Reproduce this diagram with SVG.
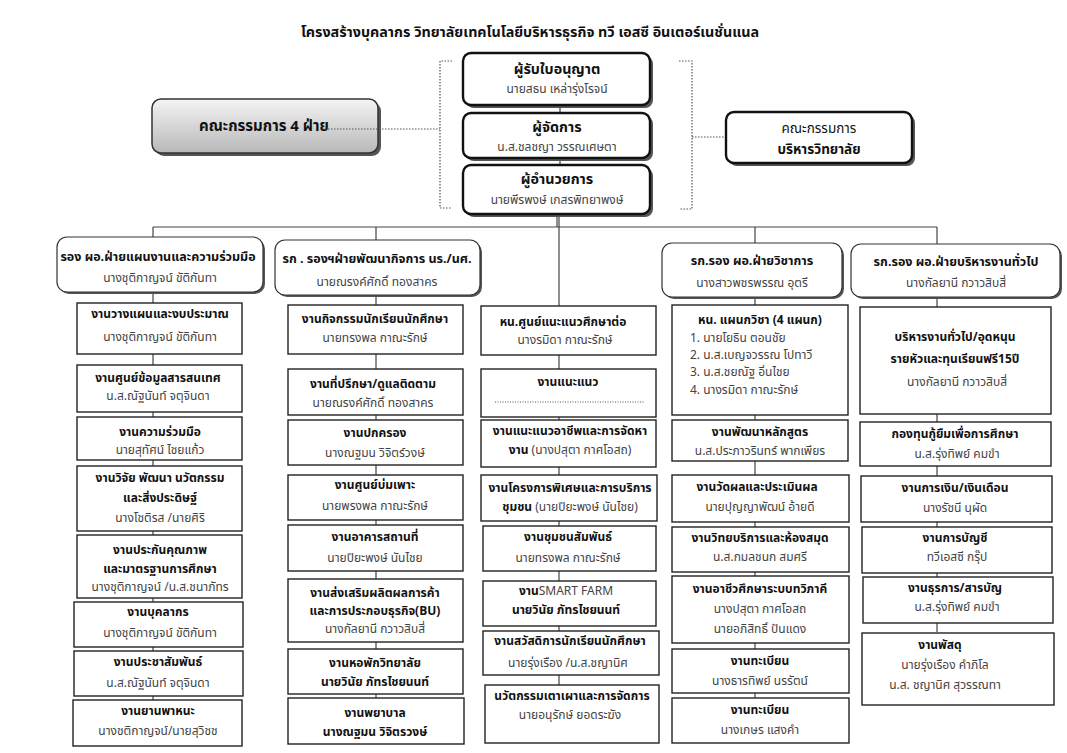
<svg xmlns="http://www.w3.org/2000/svg" width="1067" height="753" viewBox="0 0 1067 753">
<defs>
<linearGradient id="g4" x1="0" y1="0" x2="0" y2="1">
<stop offset="0" stop-color="#f4f4f4"/><stop offset="1" stop-color="#b8b8b8"/>
</linearGradient>
<style>
text{font-family:"Tahoma","Noto Sans Thai","Noto Sans","DejaVu Sans",sans-serif;text-anchor:middle;fill:#333}
.t{font-weight:bold;font-size:12px;fill:#111}
.n{font-size:12px;fill:#444}
.h{font-weight:bold;font-size:12.5px;fill:#111}
.ttl{font-weight:bold;font-size:14.3px;fill:#111}
.l{text-anchor:start}
.box{fill:#fff;stroke:#222;stroke-width:1.4}
.hdr{fill:#fff;stroke:#333;stroke-width:1.2}
.sh{fill:#555}
.top{fill:#fff;stroke:#111;stroke-width:2.4}
.ln{stroke:#444;stroke-width:1.2;fill:none}
.dot{stroke:#555;stroke-width:1.2;fill:none;stroke-dasharray:1.5 1.5}
</style>
</defs>
<rect width="1067" height="753" fill="#fff"/>
<text class="ttl" x="530" y="37">โครงสร้างบุคลากร วิทยาลัยเทคโนโลยีบริหารธุรกิจ ทวี เอสซี อินเตอร์เนชั่นแนล</text>

<g id="connectors">
<path class="ln" d="M560,105V113M560,158V165"/>
<path class="ln" d="M557,214V227M153,227H937M153,227V700M376,227V698M559,214V685M755,227V698M937,227V632"/>
<path class="dot" d="M452,61H440V208H452M679,61H692V209H679M692,137H726"/>
</g>

<g id="comm4">
<rect class="sh" x="155" y="102" width="226" height="54" rx="9"/>
<rect x="152" y="99" width="226" height="54" rx="9" fill="url(#g4)" stroke="#333" stroke-width="1.5"/>
<text class="ttl" x="264" y="131" style="font-size:15px">คณะกรรมการ 4 ฝ่าย</text>
</g>
<g id="licensee">
<rect class="sh" x="466" y="56" width="187" height="52" rx="8"/>
<rect class="top" x="463" y="53" width="187" height="52" rx="8"/>
<text class="ttl" x="557" y="74">ผู้รับใบอนุญาต</text>
<text class="n" x="557" y="93">นายสธน เหล่ารุ่งโรจน์</text>
</g>
<g id="manager">
<rect class="sh" x="466" y="116" width="187" height="45" rx="8"/>
<rect class="top" x="463" y="113" width="187" height="45" rx="8"/>
<text class="ttl" x="557" y="132">ผู้จัดการ</text>
<text class="n" x="557" y="151">น.ส.ชลชญา  วรรณเศษตา</text>
</g>
<g id="director">
<rect class="sh" x="466" y="168" width="187" height="49" rx="8"/>
<rect class="top" x="463" y="165" width="187" height="49" rx="8"/>
<text class="ttl" x="557" y="184">ผู้อำนวยการ</text>
<text class="n" x="557" y="204">นายพีรพงษ์  เกสรพิทยาพงษ์</text>
</g>
<g id="board">
<rect class="sh" x="729" y="115" width="186" height="51" rx="8"/>
<rect class="top" x="726" y="112" width="186" height="51" rx="8"/>
<text class="h" x="819" y="133" style="font-weight:normal;font-size:13.5px">คณะกรรมการ</text>
<text class="h" x="819" y="154" style="font-size:13.5px">บริหารวิทยาลัย</text>
</g>

<!-- column 1 -->
<g id="c1h">
<rect class="sh" x="59" y="239" width="206" height="55" rx="10"/>
<rect class="hdr" x="57" y="237" width="206" height="55" rx="10"/>
<text class="h" x="158" y="261">รอง ผอ.ฝ่ายแผนงานและความร่วมมือ</text>
<text class="n" x="160" y="282">นางชุติกาญจน์ ขัติกันทา</text>
</g>
<g id="c1b1"><rect class="box" x="77" y="303" width="165" height="51"/>
<text class="t" x="160" y="318">งานวางแผนและงบประมาณ</text><text class="n" x="160" y="341">นางชุติกาญจน์ ขัติกันทา</text></g>
<g id="c1b2"><rect class="box" x="77" y="365" width="165" height="47"/>
<text class="t" x="158" y="382">งานศูนย์ข้อมูลสารสนเทศ</text><text class="n" x="158" y="400">น.ส.ณัฐนันท์ จตุจินดา</text></g>
<g id="c1b3"><rect class="box" x="77" y="417" width="165" height="43"/>
<text class="t" x="160" y="436">งานความร่วมมือ</text><text class="n" x="160" y="454">นายสุทัศน์ ไชยแก้ว</text></g>
<g id="c1b4"><rect class="box" x="77" y="466" width="165" height="65"/>
<text class="t" x="160" y="482">งานวิจัย พัฒนา นวัตกรรม</text><text class="t" x="160" y="502">และสิ่งประดิษฐ์</text><text class="n" x="160" y="522">นางโชติรส /นายศิริ</text></g>
<g id="c1b5"><rect class="box" x="77" y="535" width="165" height="63"/>
<text class="t" x="160" y="554">งานประกันคุณภาพ</text><text class="t" x="160" y="573">และมาตรฐานการศึกษา</text><text class="n" x="160" y="591">นางชุติกาญจน์ /น.ส.ชนาภัทร</text></g>
<g id="c1b6"><rect class="box" x="74" y="602" width="169" height="45"/>
<text class="t" x="158" y="616">งานบุคลากร</text><text class="n" x="160" y="637">นางชุติกาญจน์ ขัติกันทา</text></g>
<g id="c1b7"><rect class="box" x="74" y="651" width="169" height="45"/>
<text class="t" x="158" y="666">งานประชาสัมพันธ์</text><text class="n" x="158" y="687">น.ส.ณัฐนันท์ จตุจินดา</text></g>
<g id="c1b8"><rect class="box" x="73" y="700" width="169" height="46"/>
<text class="t" x="158" y="715">งานยานพาหนะ</text><text class="n" x="158" y="735">นางชติกาญจน์/นายสุวิชช</text></g>

<!-- column 2 -->
<g id="c2h">
<rect class="sh" x="277" y="242" width="205" height="55" rx="10"/>
<rect class="hdr" x="275" y="240" width="205" height="55" rx="10"/>
<text class="h" x="377" y="263">รก . รองฯฝ่ายพัฒนากิจการ นร./นศ.</text>
<text class="n" x="377" y="286">นายณรงค์ศักดิ์  ทองสาคร</text>
</g>
<g id="c2b1"><rect class="box" x="288" y="305" width="175" height="49"/>
<text class="t" x="375" y="323">งานกิจกรรมนักเรียนนักศึกษา</text><text class="n" x="375" y="342">นายทรงพล กาณะรักษ์</text></g>
<g id="c2b2"><rect class="box" x="288" y="369" width="175" height="46"/>
<text class="t" x="373" y="388">งานที่ปรึกษา/ดูแลติดตาม</text><text class="n" x="373" y="407">นายณรงค์ศักดิ์  ทองสาคร</text></g>
<g id="c2b3"><rect class="box" x="288" y="420" width="175" height="45"/>
<text class="t" x="375" y="437">งานปกครอง</text><text class="n" x="375" y="457">นางณฐมน วิจิตร์วงษ์</text></g>
<g id="c2b4"><rect class="box" x="288" y="475" width="175" height="45"/>
<text class="t" x="375" y="489">งานศูนย์บ่มเพาะ</text><text class="n" x="375" y="510">นายพรงพล กาณะรักษ์</text></g>
<g id="c2b5"><rect class="box" x="288" y="525" width="175" height="46"/>
<text class="t" x="375" y="541">งานอาคารสถานที่</text><text class="n" x="375" y="562">นายปิยะพงษ์ นันไชย</text></g>
<g id="c2b6"><rect class="box" x="288" y="579" width="175" height="63"/>
<text class="t" x="375" y="597">งานส่งเสริมผลิตผลการค้า</text><text class="t" x="375" y="615">และการประกอบธุรกิจ(BU)</text><text class="n" x="375" y="633">นางกัลยานี กวาวสิบสี่</text></g>
<g id="c2b7"><rect class="box" x="288" y="649" width="175" height="45"/>
<text class="t" x="375" y="667">งานหอพักวิทยาลัย</text><text class="t" x="375" y="686">นายวินัย  ภัทรไชยนนท์</text></g>
<g id="c2b8"><rect class="box" x="288" y="698" width="176" height="46"/>
<text class="t" x="375" y="717">งานพยาบาล</text><text class="t" x="375" y="736">นางณฐมน  วิจิตรวงษ์</text></g>

<!-- column 3 -->
<g id="c3b1"><rect class="box" x="481" y="306" width="175" height="49"/>
<text class="t" x="563" y="326">หน.ศูนย์แนะแนวศึกษาต่อ</text><text class="n" x="565" y="344">นางรมิดา  กาณะรักษ์</text></g>
<g id="c3b2"><rect class="box" x="481" y="369" width="175" height="48"/>
<text class="t" x="568" y="386">งานแนะแนว</text><path class="dot" d="M495,402H645" style="stroke-dasharray:1 1.5"/></g>
<g id="c3b3"><rect class="box" x="481" y="420" width="175" height="47"/>
<text class="t" x="570" y="435">งานแนะแนวอาชีพและการจัดหา</text>
<text class="n" x="570" y="454"><tspan class="t">งาน</tspan> (นางปสุตา  กาศโอสถ)</text></g>
<g id="c3b4"><rect class="box" x="481" y="475" width="176" height="46"/>
<text class="t" x="570" y="492">งานโครงการพิเศษและการบริการ</text>
<text class="n" x="570" y="511"><tspan class="t">ชุมชน</tspan> (นายปิยะพงษ์ นันไชย)</text></g>
<g id="c3b5"><rect class="box" x="483" y="526" width="173" height="45"/>
<text class="t" x="568" y="541">งานชุมชนสัมพันธ์</text><text class="n" x="568" y="562">นายทรงพล กาณะรักษ์</text></g>
<g id="c3b6"><rect class="box" x="483" y="581" width="173" height="45"/>
<text class="n" x="566" y="595"><tspan class="t">งาน</tspan>SMART FARM</text><text class="t" x="566" y="614">นายวินัย  ภัทรไชยนนท์</text></g>
<g id="c3b7"><rect class="box" x="483" y="631" width="176" height="44"/>
<text class="t" x="570" y="645">งานสวัสดิการนักเรียนนักศึกษา</text><text class="n" x="568" y="667">นายรุ่งเรือง /น.ส.ชญานิศ</text></g>
<g id="c3b8"><rect class="box" x="485" y="685" width="174" height="58"/>
<text class="t" x="572" y="700">นวัตกรรมเตาเผาและการจัดการ</text><text class="n" x="570" y="719">นายอนุรักษ์ ยอดระฆัง</text></g>

<!-- column 4 -->
<g id="c4h">
<rect class="sh" x="664" y="245" width="180" height="54" rx="10"/>
<rect class="hdr" x="662" y="243" width="180" height="54" rx="10"/>
<text class="h" x="752" y="265">รก.รอง ผอ.ฝ่ายวิชาการ</text>
<text class="n" x="752" y="287">นางสาวพชรพรรณ อุตรี</text>
</g>
<g id="c4b1"><rect class="box" x="672" y="305" width="176" height="110"/>
<text class="t" x="760" y="324">หน. แผนกวิชา (4 แผนก)</text>
<text class="n l" x="690" y="342">1. นายโยธิน  ตอนชัย</text>
<text class="n l" x="690" y="359">2. น.ส.เบญจวรรณ โปทาวี</text>
<text class="n l" x="690" y="376">3. น.ส.ชยณัฐ   อิ่นไชย</text>
<text class="n l" x="690" y="394">4. นางรมิดา กาณะรักษ์</text></g>
<g id="c4b2"><rect class="box" x="672" y="420" width="176" height="41"/>
<text class="t" x="760" y="436">งานพัฒนาหลักสูตร</text><text class="n" x="760" y="455">น.ส.ประภาวรินทร์ พากเพียร</text></g>
<g id="c4b3"><rect class="box" x="672" y="475" width="177" height="47"/>
<text class="t" x="757" y="491">งานวัดผลและประเมินผล</text><text class="n" x="760" y="511">นายปุญญาพัฒน์ อ้ายดี</text></g>
<g id="c4b4"><rect class="box" x="672" y="527" width="177" height="45"/>
<text class="t" x="760" y="542">งานวิทยบริการและห้องสมุด</text><text class="n" x="760" y="561">น.ส.กมลชนก  สมศรี</text></g>
<g id="c4b5"><rect class="box" x="672" y="576" width="177" height="67"/>
<text class="t" x="760" y="593">งานอาชีวศึกษาระบบทวิภาคี</text><text class="n" x="760" y="613">นางปสุตา  กาศโอสถ</text><text class="n" x="760" y="633">นายอภิสิทธิ์  ปันแดง</text></g>
<g id="c4b6"><rect class="box" x="672" y="649" width="177" height="44"/>
<text class="t" x="760" y="665">งานทะเบียน</text><text class="n" x="760" y="685">นางธารทิพย์ นรรัตน์</text></g>
<g id="c4b7"><rect class="box" x="672" y="698" width="177" height="45"/>
<text class="t" x="760" y="714">งานทะเบียน</text><text class="n" x="760" y="734">นางเกษร แสงคำ</text></g>

<!-- column 5 -->
<g id="c5h">
<rect class="sh" x="853" y="246" width="209" height="53" rx="10"/>
<rect class="hdr" x="851" y="244" width="209" height="53" rx="10"/>
<text class="h" x="956" y="266">รก.รอง ผอ.ฝ่ายบริหารงานทั่วไป</text>
<text class="n" x="956" y="287">นางกัลยานี กวาวสิบสี่</text>
</g>
<g id="c5b1"><rect class="box" x="860" y="307" width="191" height="107"/>
<text class="t" x="955" y="341">บริหารงานทั่วไป/อุดหนุน</text><text class="t" x="955" y="363">รายหัวและทุนเรียนฟรี15ปี</text><text class="n" x="957" y="386">นางกัลยานี กวาวสิบสี่</text></g>
<g id="c5b2"><rect class="box" x="860" y="422" width="191" height="44"/>
<text class="t" x="955" y="438">กองทุนกู้ยืมเพื่อการศึกษา</text><text class="n" x="957" y="458">น.ส.รุ่งทิพย์  คมขำ</text></g>
<g id="c5b3"><rect class="box" x="861" y="476" width="191" height="46"/>
<text class="t" x="955" y="492">งานการเงิน/เงินเดือน</text><text class="n" x="955" y="512">นางรัชนี  นุผัด</text></g>
<g id="c5b4"><rect class="box" x="862" y="527" width="190" height="46"/>
<text class="t" x="955" y="542">งานการบัญชี</text><text class="n" x="957" y="561">ทวีเอสซี กรุ๊ป</text></g>
<g id="c5b5"><rect class="box" x="863" y="577" width="190" height="46"/>
<text class="t" x="955" y="592">งานธุรการ/สารบัญ</text><text class="n" x="957" y="611">น.ส.รุ่งทิพย์  คมขำ</text></g>
<g id="c5b6"><rect class="box" x="862" y="633" width="192" height="72"/>
<text class="t" x="940" y="649">งานพัสดุ</text><text class="n" x="945" y="669">นายรุ่งเรือง คำภิโล</text><text class="n" x="945" y="689">น.ส. ชญานิศ สุวรรณทา</text></g>

<g id="connectors-over">
<path class="dot" d="M322,129H440"/>
</g>
</svg>
